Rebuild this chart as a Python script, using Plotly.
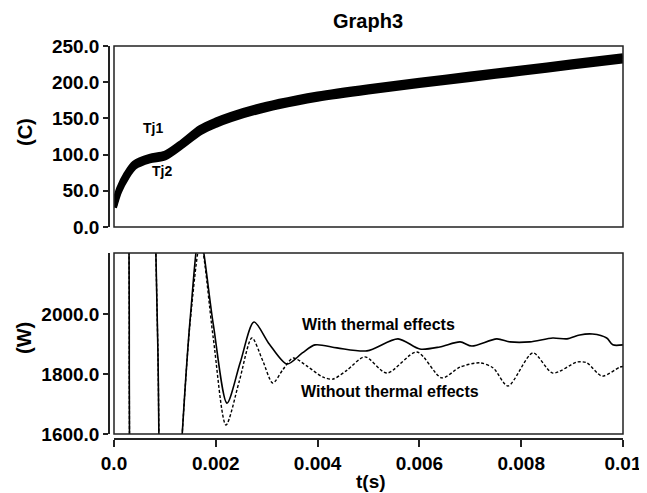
import plotly.graph_objects as go

# ---- data ----
t_temp = [0, 0.0001, 0.00025, 0.0004, 0.0007, 0.001, 0.0013, 0.0017, 0.002, 0.0023, 0.003,
          0.0036, 0.004, 0.005, 0.006, 0.007, 0.008, 0.009, 0.01]
tj1 = [29, 53, 74, 88, 97, 101, 115, 137, 147, 155, 169, 178, 183, 193, 202, 210.5, 219, 227.5, 236]
tj2 = [27, 49, 69, 83, 92, 96, 110, 131, 141, 149, 163, 172, 177, 187, 196, 204.5, 213, 221.5, 230]

t_with = [0, 0.00028, 0.00029, 0.0003, 0.00031, 0.00045, 0.0006, 0.00075, 0.00086, 0.00095,
          0.00115, 0.00134, 0.0015, 0.00168, 0.00195, 0.00222, 0.00248, 0.00275, 0.00305, 0.0034,
          0.0037, 0.00395, 0.00438, 0.00497, 0.00558, 0.00601, 0.0064, 0.0068, 0.00703, 0.00752,
          0.00778, 0.00817, 0.00862, 0.0089, 0.00915, 0.0094, 0.00968, 0.0098, 0.01]
p_with = [0, 0, 0, 1900, 3800, 4000, 4000, 2800, 1900, 1200,
          1000, 1600, 1990, 2270, 1966, 1703, 1838, 1973, 1900, 1833,
          1870, 1897, 1887, 1877, 1917, 1883, 1890, 1907, 1893, 1917,
          1907, 1907, 1920, 1917, 1930, 1933, 1920, 1897, 1897]

t_without = [0, 0.00028, 0.00029, 0.0003, 0.00031, 0.00045, 0.0006, 0.00075, 0.00086, 0.00095,
             0.00115, 0.00134, 0.0015, 0.0017, 0.00195, 0.0022, 0.00246, 0.00271, 0.00292, 0.00312,
             0.00332, 0.00352, 0.0038, 0.0041, 0.0043, 0.00458, 0.00493, 0.00536, 0.00595, 0.00644,
             0.0068, 0.00719, 0.00745, 0.00774, 0.00823, 0.00862, 0.0091, 0.00929, 0.00959, 0.00994,
             0.01]
p_without = [0, 0, 0, 1900, 3800, 4000, 4000, 2800, 1900, 1200,
             1000, 1600, 1980, 2240, 1920, 1630, 1775, 1920, 1845, 1770,
             1815, 1853, 1825, 1790, 1783, 1813, 1857, 1803, 1873, 1787,
             1823, 1837, 1820, 1760, 1870, 1803, 1840, 1837, 1793, 1823,
             1825]

temp_ticks = [0, 50, 100, 150, 200, 250]
temp_ticktext = ["0.0", "50.0", "100.0", "150.0", "200.0", "250.0"]
pow_ticks = [1600, 1800, 2000]
pow_ticktext = ["1600.0", "1800.0", "2000.0"]
time_ticks = [0, 0.002, 0.004, 0.006, 0.008, 0.01]
time_ticktext = ["0.0", "0.002", "0.004", "0.006", "0.008", "0.01"]

# ---- layout geometry (screen pixels; the page body adds an 8px margin) ----
OFF = 8
W, H = 647 - OFF, 493 - OFF
def px(x):
    return (x - OFF) / W
def py(y):
    return (H - (y - OFF)) / H

FONT = "Liberation Sans, Arial, sans-serif"
tickfont = dict(family=FONT, size=19, color="black", weight="bold")

fig = go.Figure()
for tj in (tj1, tj2):
    fig.add_trace(go.Scatter(x=t_temp, y=tj, mode="lines",
                             line=dict(color="black", width=6, shape="spline", smoothing=0.8),
                             xaxis="x", yaxis="y", showlegend=False))
fig.add_trace(go.Scatter(x=t_with, y=p_with, mode="lines",
                         line=dict(color="black", width=1.6, shape="spline", smoothing=0.8),
                         xaxis="x2", yaxis="y2", showlegend=False))
fig.add_trace(go.Scatter(x=t_without, y=p_without, mode="lines",
                         line=dict(color="black", width=1.4, dash="3px,2px", shape="spline", smoothing=0.8),
                         xaxis="x2", yaxis="y2", showlegend=False))

xdom = [px(114), px(623)]
common = dict(showgrid=False, zeroline=False, automargin=False)
fig.update_layout(
    width=W, height=H,
    margin=dict(l=0, r=0, t=0, b=0, autoexpand=False),
    paper_bgcolor="white", plot_bgcolor="white",
    xaxis=dict(domain=xdom, range=[0, 0.01], showticklabels=False, ticks="", showline=False,
               anchor="y", **common),
    yaxis=dict(domain=[py(227), py(46)], range=[0, 250], anchor="free", position=px(109),
               showline=True, linecolor="#222", linewidth=1.5, ticks="outside", ticklen=5,
               tickwidth=1.5, tickcolor="#222", tickvals=temp_ticks, ticktext=temp_ticktext,
               tickfont=tickfont, **common),
    xaxis2=dict(domain=xdom, range=[0, 0.01], anchor="free", position=py(439),
                showline=True, linecolor="#222", linewidth=1.5, ticks="outside", ticklen=7,
                tickwidth=1.5, tickcolor="#222", tickvals=time_ticks, ticktext=time_ticktext,
                tickfont=tickfont, **common),
    yaxis2=dict(domain=[py(434), py(253)], range=[1600, 2203], anchor="free", position=px(109),
                showline=True, linecolor="#222", linewidth=1.5, ticks="outside", ticklen=5,
                tickwidth=1.5, tickcolor="#222", tickvals=pow_ticks, ticktext=pow_ticktext,
                tickfont=tickfont, **common),
)

# frames
for xr, yr in (("x domain", "y domain"), ("x2 domain", "y2 domain")):
    fig.add_shape(type="rect", xref=xr, yref=yr, x0=0, x1=1, y0=0, y1=1,
                  line=dict(color="#222", width=1.5), layer="above")

def ann(text, x, y, size, angle=0):
    fig.add_annotation(text=text, x=px(x), y=py(y), xref="paper", yref="paper",
                       showarrow=False, xanchor="center", yanchor="middle", textangle=angle,
                       font=dict(family=FONT, size=size, color="black", weight="bold"))

ann("Graph3", 368, 21, 20)
ann("(C)", 25, 132, 20, -90)
ann("(W)", 24, 338, 20, -90)
ann("t(s)", 371, 481, 19)
ann("Tj1", 153, 128, 14)
ann("Tj2", 162, 171, 14)
ann("With thermal effects", 378, 324, 16)
ann("Without thermal effects", 390, 391, 16)

fig.write_html("out.html")
